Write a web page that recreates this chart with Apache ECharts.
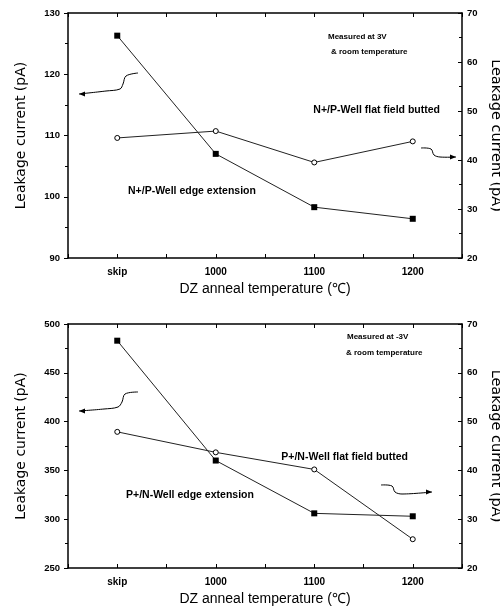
<!DOCTYPE html>
<html>
<head>
<meta charset="utf-8">
<script src="https://cdn.jsdelivr.net/npm/echarts@6/dist/echarts.min.js"></script>
<style>
  html, body { margin: 0; padding: 0; background: #fff; }
  #chart { width: 500px; height: 613px; }
</style>
</head>
<body>
<div id="chart"></div>
<script>
// categories on the x axis
var categories = ['skip', '1000', '1100', '1200'];

// upper panel (measured at 3V)
var topEdge = [126.3, 107.0, 98.3, 96.4];   // N+/P-Well edge extension, left axis
var topFlat = [44.5, 45.9, 39.5, 43.8];     // N+/P-Well flat field butted, right axis
var topLeftTicks = [90, 100, 110, 120, 130];
var topRightTicks = [20, 30, 40, 50, 60, 70];

// lower panel (measured at -3V)
var botEdge = [482.9, 360.1, 306.0, 303.0]; // P+/N-Well edge extension, left axis
var botFlat = [47.9, 43.7, 40.2, 25.9];     // P+/N-Well flat field butted, right axis
var botLeftTicks = [250, 300, 350, 400, 450, 500];
var botRightTicks = [20, 30, 40, 50, 60, 70];

var FONT = 'Liberation Sans';
var chart = echarts.init(document.getElementById('chart'));

function toPoints(vals) {
    return vals.map(function (v, i) { return [i + 1, v]; });
}

function catLabel(v) {
    var r = Math.round(v);
    if (Math.abs(v - r) > 1e-6) return '';
    return categories[r - 1] || '';
}

function xAxisCfg(gi, pos) {
    var bottom = pos === 'bottom';
    return {
        type: 'value',
        gridIndex: gi,
        position: pos,
        min: 0.5,
        max: 4.5,
        interval: 0.5,
        axisLine: { onZero: false, lineStyle: { color: '#000', width: 1.5 } },
        axisTick: { inside: true, length: 4, lineStyle: { color: '#000', width: 1 } },
        splitLine: { show: false },
        axisLabel: {
            show: bottom,
            formatter: catLabel,
            margin: 9,
            fontFamily: FONT,
            fontWeight: 'bold',
            fontSize: 10,
            color: '#000'
        },
        name: bottom ? 'DZ anneal temperature (\u2103)' : '',
        nameLocation: 'middle',
        nameGap: 24,
        nameTextStyle: { fontFamily: FONT, fontSize: 14, color: '#000' }
    };
}

function yAxisCfg(gi, pos, ticks) {
    var left = pos === 'left';
    return {
        type: 'value',
        gridIndex: gi,
        position: pos,
        min: ticks[0],
        max: ticks[ticks.length - 1],
        interval: ticks[1] - ticks[0],
        axisLine: { show: true, onZero: false, lineStyle: { color: '#000', width: 1.5 } },
        axisTick: { show: true, inside: !left, length: 4, lineStyle: { color: '#000', width: 1 } },
        minorTick: { show: true, splitNumber: 2, length: 3, lineStyle: { color: '#000', width: 1 } },
        splitLine: { show: false },
        axisLabel: {
            margin: left ? 8 : 5,
            fontFamily: FONT,
            fontWeight: 'bold',
            fontSize: 9.5,
            color: '#000'
        },
        name: 'Leakage current (pA)',
        nameLocation: 'middle',
        nameRotate: left ? 90 : -90,
        nameGap: left ? 40 : 22,
        nameTextStyle: { fontFamily: 'DejaVu Sans', fontSize: left ? 14 : 14.5, color: '#000' }
    };
}

function edgeSeries(xi, yi, vals) {
    return {
        type: 'line',
        xAxisIndex: xi,
        yAxisIndex: yi,
        data: toPoints(vals),
        symbol: 'rect',
        symbolSize: 6,
        itemStyle: { color: '#000' },
        lineStyle: { color: '#222', width: 1 },
        z: 3
    };
}

function flatSeries(xi, yi, vals) {
    return {
        type: 'line',
        xAxisIndex: xi,
        yAxisIndex: yi,
        data: toPoints(vals),
        symbol: 'circle',
        symbolSize: 5,
        itemStyle: { color: '#fff', borderColor: '#000', borderWidth: 1 },
        lineStyle: { color: '#222', width: 1 },
        z: 4
    };
}

function note(x, y, text, size, align) {
    return {
        type: 'text',
        x: x,
        y: y,
        style: {
            text: text,
            fill: '#000',
            font: 'bold ' + size + 'px "' + FONT + '"',
            align: align || 'left',
            verticalAlign: 'middle'
        }
    };
}

// curly arrow: tail polyline + filled head
function arrow(points, dir) {
    var tip = points[points.length - 1];
    var head = dir < 0
        ? [[tip[0], tip[1]], [tip[0] + 6, tip[1] - 2.5], [tip[0] + 6, tip[1] + 2.5]]
        : [[tip[0], tip[1]], [tip[0] - 6, tip[1] - 2.5], [tip[0] - 6, tip[1] + 2.5]];
    return [
        { type: 'polyline', shape: { points: points, smooth: 0.35 }, style: { stroke: '#000', lineWidth: 1, fill: null } },
        { type: 'polygon', shape: { points: head }, style: { fill: '#000' } }
    ];
}

var graphics = [
    note(328, 37, 'Measured at 3V', 8),
    note(331, 52, '& room temperature', 8),
    note(440, 110, 'N+/P-Well flat field butted', 10.5, 'right'),
    note(128, 191, 'N+/P-Well edge extension', 10.5),
    note(347, 337, 'Measured at -3V', 8),
    note(346, 353, '& room temperature', 8),
    note(408, 457, 'P+/N-Well flat field butted', 10.5, 'right'),
    note(126, 495, 'P+/N-Well edge extension', 10.5)
]
    .concat(arrow([[138, 73], [126, 76], [123, 84], [120, 89], [106, 91], [79, 94]], -1))
    .concat(arrow([[421, 148], [431, 149], [434, 155], [440, 157], [456, 157]], 1))
    .concat(arrow([[138, 392], [125, 394], [122, 402], [118, 407], [104, 409], [79, 411]], -1))
    .concat(arrow([[381, 485], [392, 486], [395, 492], [402, 494], [432, 492]], 1));

var option = {
    animation: false,
    backgroundColor: '#fff',
    grid: [
        { left: 68, top: 13, width: 394, height: 245, outerBoundsMode: 'none' },
        { left: 68, top: 324, width: 394, height: 244, outerBoundsMode: 'none' }
    ],
    xAxis: [
        xAxisCfg(0, 'bottom'),
        xAxisCfg(0, 'top'),
        xAxisCfg(1, 'bottom'),
        xAxisCfg(1, 'top')
    ],
    yAxis: [
        yAxisCfg(0, 'left', topLeftTicks),
        yAxisCfg(0, 'right', topRightTicks),
        yAxisCfg(1, 'left', botLeftTicks),
        yAxisCfg(1, 'right', botRightTicks)
    ],
    series: [
        edgeSeries(0, 0, topEdge),
        flatSeries(0, 1, topFlat),
        edgeSeries(2, 2, botEdge),
        flatSeries(2, 3, botFlat)
    ],
    graphic: graphics
};

chart.setOption(option);
</script>
</body>
</html>
